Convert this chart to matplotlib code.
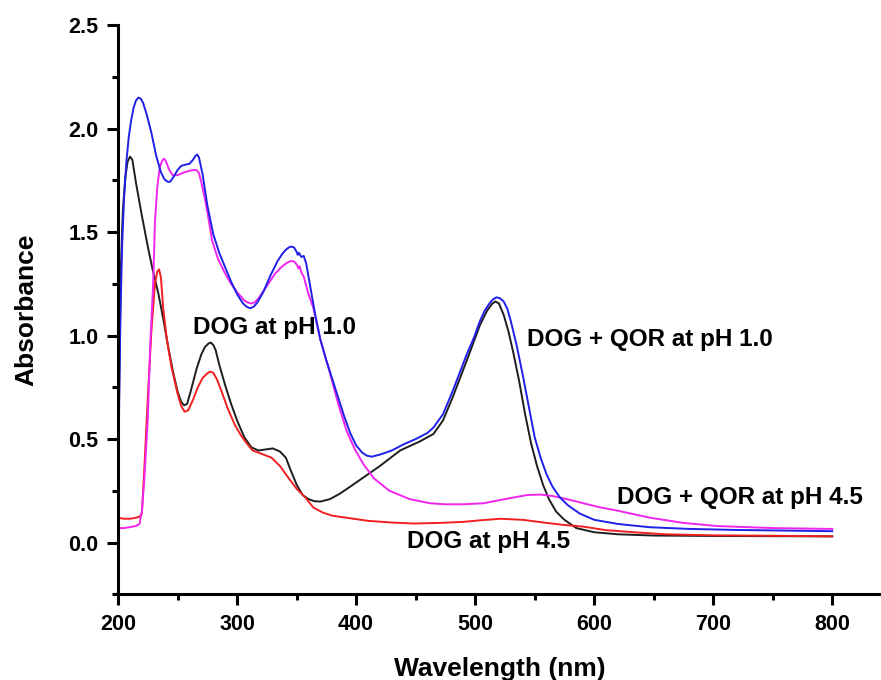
import matplotlib
matplotlib.use("Agg")
import matplotlib.pyplot as plt
from matplotlib.ticker import MultipleLocator

plt.rcParams['font.family'] = ['Liberation Sans', 'DejaVu Sans']
plt.rcParams['font.weight'] = 'bold'

# DOG + QOR at pH 1.0
wl_qor1 = [200, 201, 202, 203.5, 205, 207, 209, 211, 213, 215, 217, 219, 221, 224, 228,
           232, 236, 239, 242, 244, 247, 250, 253, 256, 260, 263, 265, 266.5, 268, 271,
           275, 280, 285, 290, 295, 300, 305, 308, 311, 314, 317, 322, 328, 334, 338,
           341, 344, 346, 348, 350, 351, 352, 354, 356, 358, 362, 366, 370, 375, 380,
           385, 390, 395, 400, 405, 409, 413, 420, 430, 440, 450, 460, 465, 473, 481,
           487, 493, 499, 504, 508, 512, 515, 518, 521, 524, 527, 530, 535, 540, 545,
           550, 555, 560, 565, 571, 578, 588, 600, 620, 647, 680, 720, 760, 800]
abs_qor1 = [0.20, 0.70, 1.10, 1.45, 1.66, 1.84, 1.96, 2.04, 2.10, 2.135, 2.15, 2.145, 2.125, 2.07, 1.98,
            1.87, 1.79, 1.755, 1.742, 1.745, 1.77, 1.80, 1.82, 1.825, 1.83, 1.85, 1.868, 1.875, 1.86, 1.78,
            1.63, 1.49, 1.40, 1.33, 1.26, 1.20, 1.155, 1.14, 1.132, 1.14, 1.16, 1.21, 1.29, 1.36, 1.395,
            1.415, 1.428, 1.43, 1.425, 1.405, 1.39, 1.40, 1.38, 1.385, 1.35, 1.22, 1.09, 0.98, 0.88, 0.79,
            0.70, 0.61, 0.53, 0.47, 0.435, 0.42, 0.415, 0.425, 0.445, 0.475, 0.50, 0.53, 0.556, 0.62, 0.73,
            0.82, 0.91, 0.99, 1.07, 1.12, 1.155, 1.175, 1.185, 1.18, 1.165, 1.13, 1.07, 0.95, 0.81, 0.66,
            0.51, 0.41, 0.33, 0.27, 0.22, 0.18, 0.14, 0.11, 0.09, 0.074, 0.066, 0.061, 0.058, 0.055]

# DOG + QOR at pH 4.5
wl_qor45 = [200, 205, 210, 215, 218, 220, 222, 225, 227, 229.5, 231, 233, 235, 237, 238.5,
            240, 243, 246, 250, 256, 263, 266, 268, 270, 273, 275, 279, 284, 290, 295,
            300, 306, 309, 312, 315, 318, 325, 332, 338, 342, 345, 347, 349, 350.5, 351.5,
            352.5, 354, 356, 360, 364, 370, 378, 385, 392, 399, 406, 415, 428, 445, 462,
            475, 490, 507, 525, 544, 555, 565, 577, 591, 605, 619, 647, 675, 703, 750, 800]
abs_qor45 = [0.07, 0.07, 0.075, 0.08, 0.09, 0.15, 0.30, 0.60, 0.95, 1.25, 1.55, 1.72, 1.81, 1.845, 1.855,
             1.845, 1.80, 1.775, 1.775, 1.79, 1.80, 1.80, 1.785, 1.74, 1.66, 1.60, 1.46, 1.37, 1.30, 1.25,
             1.21, 1.17, 1.16, 1.155, 1.162, 1.18, 1.24, 1.30, 1.335, 1.352, 1.36, 1.36, 1.352, 1.34, 1.325,
             1.335, 1.305, 1.285, 1.20, 1.135, 0.98, 0.82, 0.67, 0.54, 0.45, 0.38, 0.31, 0.25, 0.21, 0.19,
             0.185, 0.185, 0.19, 0.21, 0.23, 0.232, 0.225, 0.21, 0.19, 0.17, 0.155, 0.12, 0.095, 0.08, 0.07, 0.066]

# DOG at pH 1.0
wl_dog1 = [200, 201, 202.5, 204, 206, 208, 210, 212, 215, 220, 225, 229, 234, 238, 242,
           246, 250, 253, 255.5, 258, 261, 266, 270, 273, 276, 278, 280, 282, 285, 290,
           295, 300, 306, 312, 318, 324, 330, 336, 341, 345, 350, 355, 360, 365, 370,
           378, 386, 395, 405, 420, 437, 454, 465, 473, 481, 493, 504, 510, 514, 517,
           520, 524, 528, 532, 537, 542, 547, 552, 557, 562, 568, 575, 585, 600, 620,
           650, 700, 800]
abs_dog1 = [0.20, 0.80, 1.35, 1.60, 1.76, 1.84, 1.865, 1.85, 1.74, 1.58, 1.43, 1.32, 1.20, 1.08, 0.95,
            0.83, 0.73, 0.68, 0.663, 0.67, 0.73, 0.84, 0.91, 0.945, 0.962, 0.966, 0.955, 0.93, 0.86, 0.76,
            0.67, 0.59, 0.51, 0.46, 0.445, 0.45, 0.455, 0.44, 0.41, 0.35, 0.28, 0.23, 0.21, 0.20, 0.198,
            0.21, 0.235, 0.27, 0.31, 0.37, 0.445, 0.49, 0.525, 0.59, 0.70, 0.88, 1.05, 1.12, 1.152, 1.165,
            1.155, 1.10, 1.02, 0.92, 0.78, 0.62, 0.48, 0.37, 0.28, 0.21, 0.15, 0.11, 0.07, 0.05, 0.04,
            0.034, 0.032, 0.03]

# DOG at pH 4.5
wl_dog45 = [200, 205, 210, 215, 218, 220, 222, 225, 228, 231, 233, 234.5, 236, 238, 241,
            245, 250, 253, 256, 259, 263, 267, 271, 275, 277.5, 280, 283, 287, 292, 298,
            303, 308, 313, 320, 329, 336, 343, 350, 357, 364, 372, 380, 392, 410, 430,
            448, 470, 490, 505, 521, 540, 560, 575, 591, 610, 633, 660, 700, 750, 800]
abs_dog45 = [0.12, 0.115, 0.115, 0.12, 0.125, 0.14, 0.35, 0.70, 1.02, 1.25, 1.31, 1.32, 1.28, 1.13, 0.98,
             0.845, 0.72, 0.66, 0.632, 0.64, 0.69, 0.75, 0.795, 0.818, 0.826, 0.82, 0.79, 0.73, 0.65, 0.57,
             0.52, 0.48, 0.445, 0.43, 0.41, 0.37, 0.314, 0.26, 0.22, 0.17, 0.145, 0.13, 0.12, 0.105, 0.097,
             0.092, 0.095, 0.10, 0.108, 0.115, 0.11, 0.095, 0.085, 0.077, 0.06, 0.05, 0.04, 0.035, 0.033, 0.03]

fig = plt.figure(figsize=(8.81, 6.8), dpi=100)
ax = fig.add_axes([0.134, 0.126, 0.866, 0.837])

ax.plot(wl_dog1, abs_dog1, color='#1e1e1e', lw=1.4)
ax.plot(wl_dog45, abs_dog45, color='#f02020', lw=1.4)
ax.plot(wl_qor45, abs_qor45, color='#f025f0', lw=1.4)
ax.plot(wl_qor1, abs_qor1, color='#2020e8', lw=1.4)

ax.text(263, 1.04, 'DOG at pH 1.0', fontsize=17.5, fontweight='bold', va='center', ha='left')
ax.text(544, 0.983, 'DOG + QOR at pH 1.0', fontsize=17.5, fontweight='bold', va='center', ha='left')
ax.text(619, 0.217, 'DOG + QOR at pH 4.5', fontsize=17.5, fontweight='bold', va='center', ha='left')
ax.text(443, 0.007, 'DOG at pH 4.5', fontsize=17.5, fontweight='bold', va='center', ha='left')

ax.set_xlim(200, 841)
ax.set_ylim(-0.25, 2.5)
ax.xaxis.set_minor_locator(MultipleLocator(50))
ax.yaxis.set_minor_locator(MultipleLocator(0.25))
ax.set_xticks([200, 300, 400, 500, 600, 700, 800])
ax.set_xticklabels(['200', '300', '400', '500', '600', '700', '800'])
ax.set_yticks([0.0, 0.5, 1.0, 1.5, 2.0, 2.5])
ax.set_yticklabels(['0.0', '0.5', '1.0', '1.5', '2.0', '2.5'])

for side in ['top', 'right']:
    ax.spines[side].set_visible(False)
for side in ['left', 'bottom']:
    ax.spines[side].set_linewidth(2.2)

ax.tick_params(which='major', length=8, width=2.2, labelsize=15.5, pad=6)
ax.tick_params(which='minor', length=4, width=2.2)
for lab in ax.get_xticklabels() + ax.get_yticklabels():
    lab.set_fontweight('bold')

ax.set_xlabel('Wavelength (nm)', fontsize=19, fontweight='bold', labelpad=16)
ax.set_ylabel('Absorbance', fontsize=19, fontweight='bold', labelpad=22)

fig.savefig('out.png', dpi=100)
